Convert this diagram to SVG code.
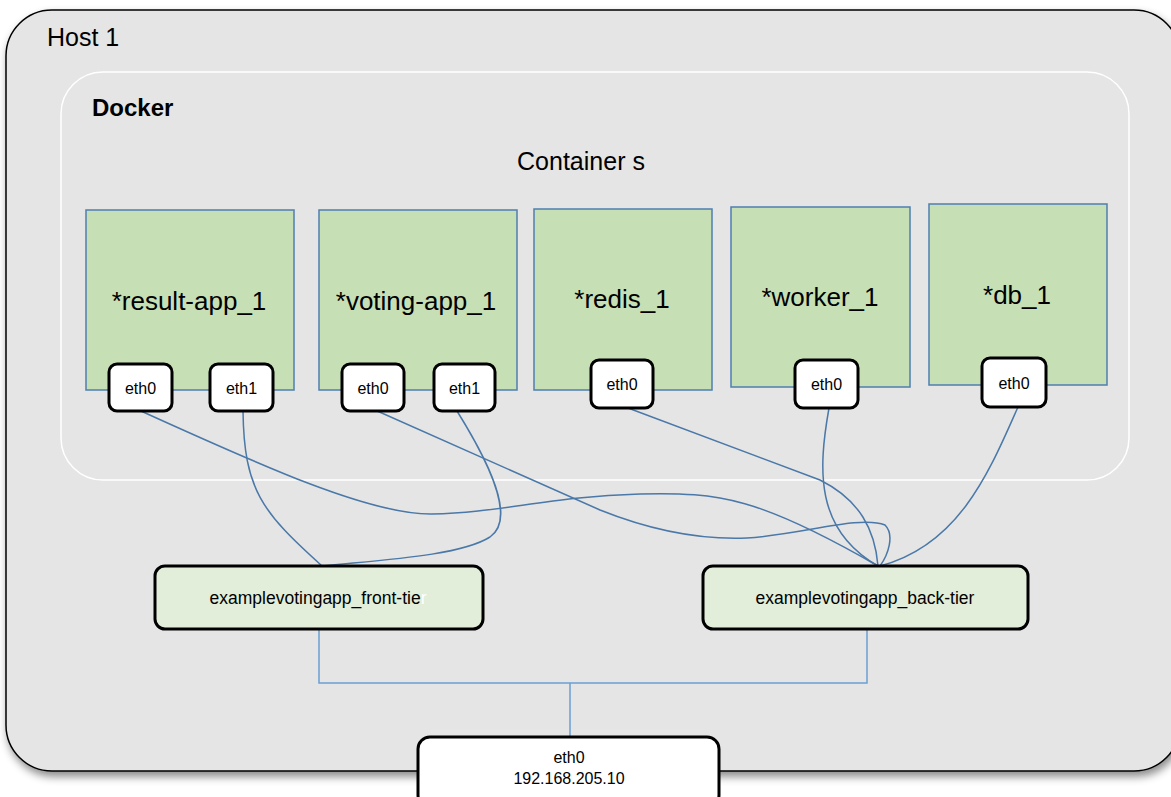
<svg xmlns="http://www.w3.org/2000/svg" width="1171" height="797" viewBox="0 0 1171 797">
<defs>
<filter id="sh" x="-5%" y="-5%" width="110%" height="115%">
<feDropShadow dx="2" dy="5" stdDeviation="4" flood-color="#000" flood-opacity="0.45"/>
</filter>
<style>
text{font-family:"Liberation Sans",Arial,sans-serif;fill:#000}
.host{fill:#e5e5e5;stroke:#000;stroke-width:1.5}
.docker{fill:none;stroke:#fff;stroke-width:1.5}
.ctr{fill:#c6dfb5;stroke:#4f7fb0;stroke-width:1.5}
.ctrt{font-size:26px;text-anchor:middle}
.eth{fill:#fff;stroke:#000;stroke-width:3}
.etht{font-size:16px;text-anchor:middle}
.tier{fill:#e2eed9;stroke:#000;stroke-width:3}
.tiert{font-size:17.5px;text-anchor:middle}
.c{fill:none;stroke:#4a78a8;stroke-width:1.5}
.cl{fill:none;stroke:#6a9fd4;stroke-width:1.5}
</style>
</defs>
<g id="host">
<rect class="host" x="6" y="10" width="1174" height="761" rx="46" ry="46" filter="url(#sh)"/>
<text x="47" y="46" font-size="25">Host 1</text>
</g>
<g id="docker">
<rect class="docker" x="61" y="72" width="1068" height="408" rx="42" ry="42"/>
<text x="92" y="116" font-size="24" font-weight="bold">Docker</text>
<text x="581" y="170" font-size="25" text-anchor="middle">Container s</text>
</g>
<g id="connectors">
<path class="c" d="M243,411 C244,490 262,512 322,566"/>
<path class="c" d="M457,411 C500,480 512,522 490,537 C460,556 380,560 322,566"/>
<path class="c" d="M141,411 C260,465 370,515 432,514 C500,513 550,496 640,494 C720,492 760,498 878,566"/>
<path class="c" d="M375,410 L600,510 C650,530 700,540 747,538 C800,535 860,515 885,525 C895,535 888,555 880,566"/>
<path class="c" d="M628,408 L820,480 C860,500 875,530 878,566"/>
<path class="c" d="M829,408 C818,470 815,530 878,566"/>
<path class="c" d="M1018,407 C990,470 960,545 880,566"/>
<path class="cl" d="M319,629 V683 H867 V629 M570,683 V737"/>
</g>
<g id="result-app">
<rect class="ctr" x="86" y="210" width="208" height="180"/>
<text class="ctrt" x="189" y="310" font-size="24">*result-app_1</text>
</g>
<g id="voting-app">
<rect class="ctr" x="319" y="210" width="198" height="180"/>
<text class="ctrt" x="416" y="310">*voting-app_1</text>
</g>
<g id="redis">
<rect class="ctr" x="534" y="209" width="178" height="181"/>
<text class="ctrt" x="622" y="308">*redis_1</text>
</g>
<g id="worker">
<rect class="ctr" x="731" y="207" width="179" height="180"/>
<text class="ctrt" x="820" y="306">*worker_1</text>
</g>
<g id="db">
<rect class="ctr" x="929" y="204" width="178" height="181"/>
<text class="ctrt" x="1017" y="304">*db_1</text>
</g>
<g id="result-eth0">
<rect class="eth" x="109" y="364" width="63" height="47" rx="8"/>
<text class="etht" x="140.5" y="394">eth0</text>
</g>
<g id="result-eth1">
<rect class="eth" x="210" y="364" width="63" height="47" rx="8"/>
<text class="etht" x="241.5" y="394">eth1</text>
</g>
<g id="voting-eth0">
<rect class="eth" x="342" y="364" width="62" height="47" rx="8"/>
<text class="etht" x="373" y="394">eth0</text>
</g>
<g id="voting-eth1">
<rect class="eth" x="434" y="364" width="61" height="47" rx="8"/>
<text class="etht" x="464.5" y="394">eth1</text>
</g>
<g id="redis-eth0">
<rect class="eth" x="591" y="360" width="62" height="48" rx="8"/>
<text class="etht" x="622" y="390">eth0</text>
</g>
<g id="worker-eth0">
<rect class="eth" x="795" y="360" width="63" height="48" rx="8"/>
<text class="etht" x="826.5" y="390">eth0</text>
</g>
<g id="db-eth0">
<rect class="eth" x="982" y="358" width="64" height="49" rx="8"/>
<text class="etht" x="1014" y="389">eth0</text>
</g>
<g id="front-tier">
<rect class="tier" x="155" y="566" width="328" height="63" rx="10"/>
<text class="tiert" x="318" y="604">examplevotingapp_front-tie<tspan fill="#fff">r</tspan></text>
</g>
<g id="back-tier">
<rect class="tier" x="703" y="566" width="325" height="63" rx="10"/>
<text class="tiert" x="865" y="604">examplevotingapp_back-tier</text>
</g>
<g id="host-eth0">
<rect class="eth" x="418" y="737" width="301" height="70" rx="12"/>
<text class="etht" x="569" y="763">eth0</text>
<text class="etht" x="569" y="784" font-size="15">192.168.205.10</text>
</g>
</svg>
